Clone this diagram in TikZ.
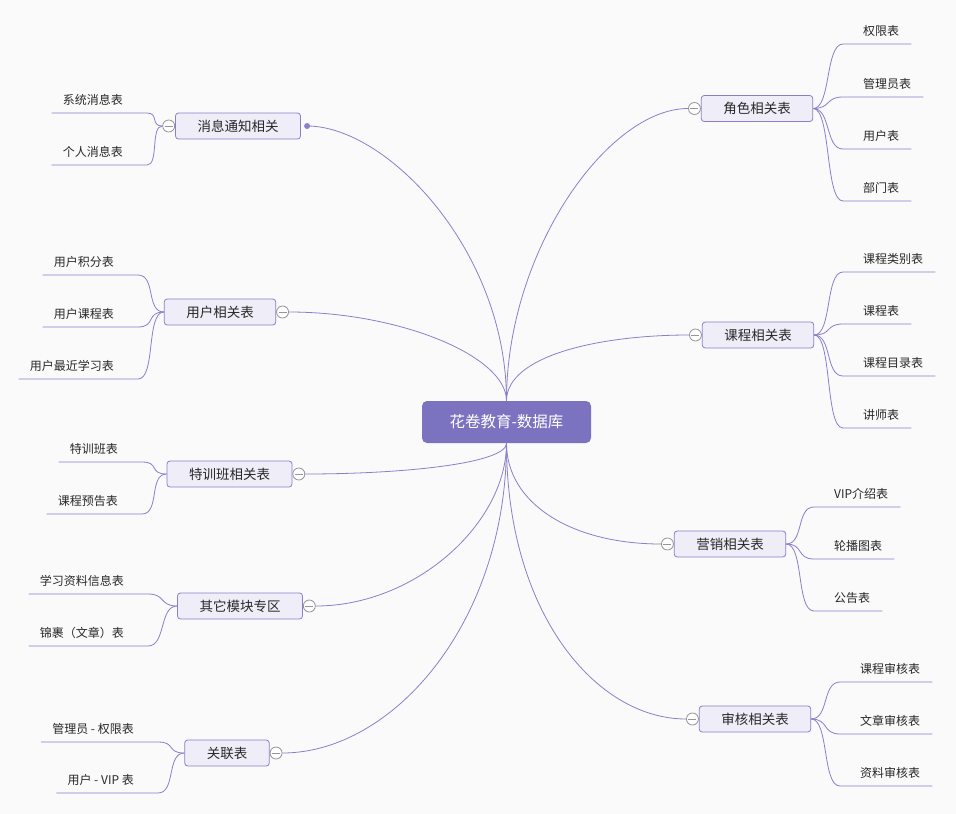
\documentclass[tikz,border=0pt]{standalone}
\usepackage{fontspec}
\setmainfont{Noto Sans CJK SC}
\usepackage{tikz}
\usetikzlibrary{positioning}
\definecolor{bgcol}{RGB}{250,250,250}
\definecolor{rootcol}{RGB}{123,115,191}
\definecolor{linecol}{RGB}{137,128,204}
\definecolor{boxcol}{RGB}{239,237,248}
\definecolor{foldcol}{RGB}{150,150,150}
\definecolor{textcol}{RGB}{40,40,40}
\tikzstyle{link} = [linecol, line width=0.8pt]
\tikzstyle{rootbox} = [fill=rootcol, rounded corners=5pt, text=white, font=\fontsize{15.5}{18}\selectfont, minimum width=169pt, minimum height=42pt, inner sep=0pt]
\tikzstyle{branchbox} = [draw=linecol, fill=boxcol, rounded corners=3pt, line width=0.8pt, text=textcol, font=\fontsize{13.5}{16}\selectfont, minimum height=26pt, inner xsep=22pt, inner ysep=0pt]
\tikzstyle{leaf} = [text=textcol, font=\fontsize{12}{14}\selectfont, inner ysep=5.5pt, text height=9pt, text depth=3pt]
\tikzstyle{leafr} = [leaf, anchor=south west, inner xsep=12pt, execute at begin node={\hspace{8pt}}]
\tikzstyle{leafl} = [leaf, anchor=south east, inner xsep=11pt, execute at end node={\hspace{13pt}}]
\tikzstyle{foldmark} = [circle, draw=foldcol, fill=white, line width=0.8pt, minimum size=12pt, inner sep=0pt,
  path picture={\draw[foldcol, line width=0.8pt] ([xshift=-4pt]path picture bounding box.center) -- ([xshift=4pt]path picture bounding box.center);}]

\begin{document}
\begin{tikzpicture}[x=1pt, y=-1pt]
    \useasboundingbox[fill=bgcol] (0,0) rectangle (956,814);

    \node[rootbox] (root) at (506.5,422) {花卷教育-数据库};

    % left branches
    \node[branchbox] (msg) at (238,126) {消息通知相关};
    \node[branchbox] (user) at (220,312) {用户相关表};
    \node[branchbox] (camp) at (229.5,474) {特训班相关表};
    \node[branchbox] (other) at (240,606) {其它模块专区};
    \node[branchbox] (rel) at (227,753) {关联表};

    \node[circle, fill=linecol, inner sep=0pt, minimum size=6pt, right=3pt of msg] (msgdot) {};
    \node[foldmark, left=0pt of msg] (msgfold) {};
    \node[foldmark, right=0pt of user] (userfold) {};
    \node[foldmark, right=0pt of camp] (campfold) {};
    \node[foldmark, right=0pt of other] (otherfold) {};
    \node[foldmark, right=0pt of rel] (relfold) {};

    % right branches
    \node[branchbox] (role) at (757,108.5) {角色相关表};
    \node[branchbox] (course) at (758,335) {课程相关表};
    \node[branchbox] (market) at (730,544) {营销相关表};
    \node[branchbox] (audit) at (755,719) {审核相关表};

    \node[foldmark, left=0pt of role] (rolefold) {};
    \node[foldmark, left=0pt of course] (coursefold) {};
    \node[foldmark, left=0pt of market] (marketfold) {};
    \node[foldmark, left=0pt of audit] (auditfold) {};

    % root to branches
    \draw[link] (root.north) .. controls +(0,-150) and +(80,0) .. (msgdot.center);
    \draw[link] (root.north) .. controls +(0,-45) and +(110,0) .. (userfold.east);
    \draw[link] (root.south) .. controls +(0,20) and +(100,0) .. (campfold.east);
    \draw[link] (root.south) .. controls +(0,80) and +(100,0) .. (otherfold.east);
    \draw[link] (root.south) .. controls +(0,180) and +(110,0) .. (relfold.east);
    \draw[link] (root.north) .. controls +(0,-150) and +(-80,0) .. (rolefold.west);
    \draw[link] (root.north) .. controls +(0,-45) and +(-90,0) .. (coursefold.west);
    \draw[link] (root.south) .. controls +(0,60) and +(-90,0) .. (marketfold.west);
    \draw[link] (root.south) .. controls +(0,170) and +(-90,0) .. (auditfold.west);

    % left leaves
    \node[leafl] (msg1) at (147,113) {系统消息表};
    \node[leafl] (msg2) at (147,165) {个人消息表};
    \node[leafl] (user1) at (138,275) {用户积分表};
    \node[leafl] (user2) at (138,327) {用户课程表};
    \node[leafl] (user3) at (138,379) {用户最近学习表};
    \node[leafl] (camp1) at (142,462) {特训班表};
    \node[leafl] (camp2) at (142,514) {课程预告表};
    \node[leafl] (other1) at (148,594) {学习资料信息表};
    \node[leafl] (other2) at (148,646) {锦裹（文章）表};
    \node[leafl] (rel1) at (158,742) {管理员 - 权限表};
    \node[leafl] (rel2) at (158,793) {用户 - VIP 表};

    \draw[link] (msgfold.west) .. controls +(-12,0) and +(12,0) .. (msg1.south east) -- (msg1.south west);
    \draw[link] (msgfold.west) .. controls +(-12,0) and +(12,0) .. (msg2.south east) -- (msg2.south west);
    \draw[link] (user.west) .. controls +(-18,0) and +(18,0) .. (user1.south east) -- (user1.south west);
    \draw[link] (user.west) .. controls +(-18,0) and +(18,0) .. (user2.south east) -- (user2.south west);
    \draw[link] (user.west) .. controls +(-18,0) and +(18,0) .. (user3.south east) -- (user3.south west);
    \draw[link] (camp.west) .. controls +(-18,0) and +(18,0) .. (camp1.south east) -- (camp1.south west);
    \draw[link] (camp.west) .. controls +(-18,0) and +(18,0) .. (camp2.south east) -- (camp2.south west);
    \draw[link] (other.west) .. controls +(-18,0) and +(18,0) .. (other1.south east) -- (other1.south west);
    \draw[link] (other.west) .. controls +(-18,0) and +(18,0) .. (other2.south east) -- (other2.south west);
    \draw[link] (rel.west) .. controls +(-18,0) and +(18,0) .. (rel1.south east) -- (rel1.south west);
    \draw[link] (rel.west) .. controls +(-18,0) and +(18,0) .. (rel2.south east) -- (rel2.south west);

    % right leaves
    \node[leafr] (role1) at (843,44) {权限表};
    \node[leafr] (role2) at (843,97) {管理员表};
    \node[leafr] (role3) at (843,149) {用户表};
    \node[leafr] (role4) at (843,201) {部门表};
    \node[leafr] (course1) at (843,272) {课程类别表};
    \node[leafr] (course2) at (843,324) {课程表};
    \node[leafr] (course3) at (843,376) {课程目录表};
    \node[leafr] (course4) at (843,428) {讲师表};
    \node[leafr] (market1) at (814,507) {VIP介绍表};
    \node[leafr] (market2) at (814,559) {轮播图表};
    \node[leafr] (market3) at (814,611) {公告表};
    \node[leafr] (audit1) at (840,682) {课程审核表};
    \node[leafr] (audit2) at (840,734) {文章审核表};
    \node[leafr] (audit3) at (840,786) {资料审核表};

    \draw[link] (role.east) .. controls +(18,0) and +(-18,0) .. (role1.south west) -- (role1.south east);
    \draw[link] (role.east) .. controls +(18,0) and +(-18,0) .. (role2.south west) -- (role2.south east);
    \draw[link] (role.east) .. controls +(18,0) and +(-18,0) .. (role3.south west) -- (role3.south east);
    \draw[link] (role.east) .. controls +(18,0) and +(-18,0) .. (role4.south west) -- (role4.south east);
    \draw[link] (course.east) .. controls +(18,0) and +(-18,0) .. (course1.south west) -- (course1.south east);
    \draw[link] (course.east) .. controls +(18,0) and +(-18,0) .. (course2.south west) -- (course2.south east);
    \draw[link] (course.east) .. controls +(18,0) and +(-18,0) .. (course3.south west) -- (course3.south east);
    \draw[link] (course.east) .. controls +(18,0) and +(-18,0) .. (course4.south west) -- (course4.south east);
    \draw[link] (market.east) .. controls +(18,0) and +(-18,0) .. (market1.south west) -- (market1.south east);
    \draw[link] (market.east) .. controls +(18,0) and +(-18,0) .. (market2.south west) -- (market2.south east);
    \draw[link] (market.east) .. controls +(18,0) and +(-18,0) .. (market3.south west) -- (market3.south east);
    \draw[link] (audit.east) .. controls +(18,0) and +(-18,0) .. (audit1.south west) -- (audit1.south east);
    \draw[link] (audit.east) .. controls +(18,0) and +(-18,0) .. (audit2.south west) -- (audit2.south east);
    \draw[link] (audit.east) .. controls +(18,0) and +(-18,0) .. (audit3.south west) -- (audit3.south east);
\end{tikzpicture}
\end{document}
